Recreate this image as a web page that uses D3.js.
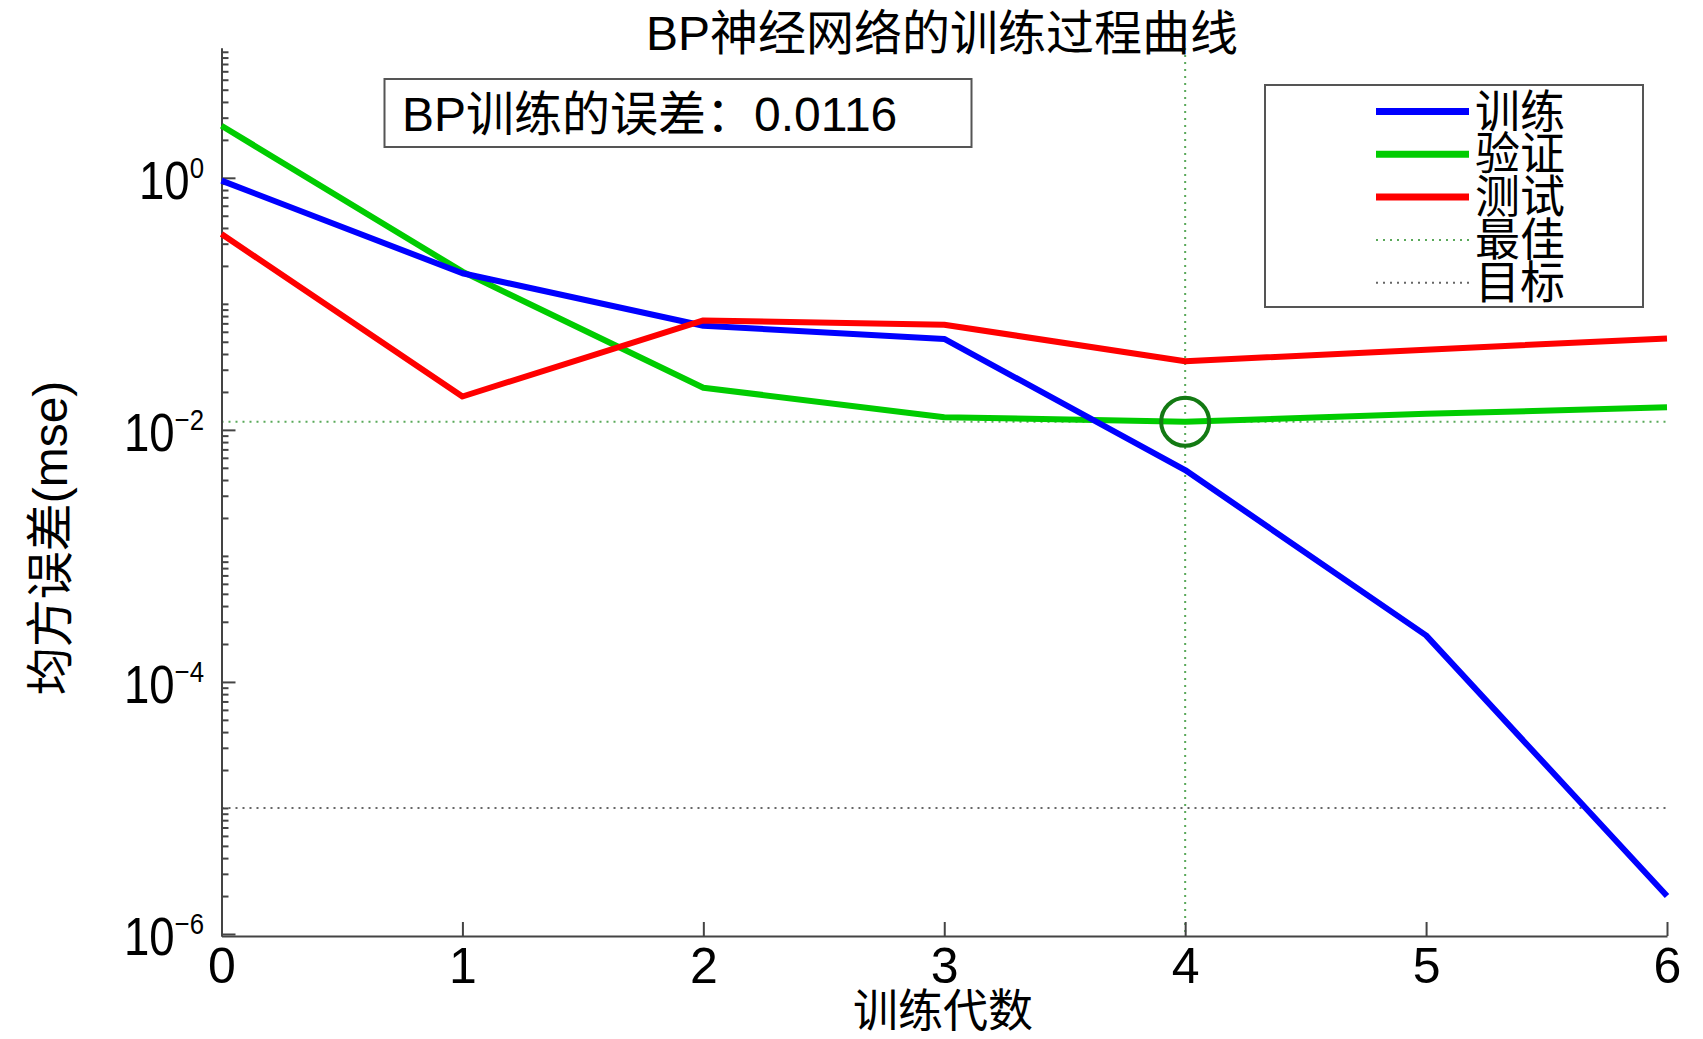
<!DOCTYPE html>
<html lang="zh">
<head>
<meta charset="UTF-8" />
<title>BP神经网络的训练过程曲线</title>
<script src="https://d3js.org/d3.v7.min.js"></script>
<style>
  body { margin: 0; background: #fff; }
  text { font-family: "Liberation Sans", Arial, "Noto Sans CJK SC", sans-serif; fill: #000; }
  .axis path, .axis line { stroke: #444; stroke-width: 2; }
  .series { fill: none; stroke-width: 6; stroke-linejoin: round; }
</style>
</head>
<body>
<script>
// 训练代数 (epochs)
const epochs = [0, 1, 2, 3, 4, 5, 6];
// 各数据集的均方误差
const trainMse = [0.95, 0.175, 0.067, 0.0527, 0.0048, 2.34e-4, 2.0e-6];
const validMse = [2.59, 0.18, 0.0216, 0.0126, 0.0116, 0.0134, 0.0151];
const testMse  = [0.358, 0.0184, 0.0738, 0.0683, 0.035, 0.0433, 0.0532];
const bestEpoch = 4;
const bestPerf = 0.0116;
const goal = 1e-5;
const legendLabels = ["训练", "验证", "测试", "最佳", "目标"];
const yMajorTicks = [1e-6, 1e-4, 1e-2, 1];
const yTickExp = ["\u22126", "\u22124", "\u22122", "0"];

const width = 1703, height = 1039;
const margin = { left: 221.5, right: 36, top: 48, bottom: 103 };

const svg = d3.select("body").append("svg")
  .attr("width", width).attr("height", height);

const x = d3.scaleLinear().domain([0, 6]).range([margin.left, width - margin.right]);
const y = d3.scaleLog().domain([Math.pow(10, -6.016), Math.pow(10, 1.03)])
  .range([height - margin.bottom, margin.top]);

// 最佳 / 目标 辅助线
svg.append("line")
  .attr("x1", x(0)).attr("x2", x(6))
  .attr("y1", y(bestPerf)).attr("y2", y(bestPerf))
  .attr("stroke", "#5aa95a").attr("stroke-width", 2).attr("stroke-dasharray", "2,5");
svg.append("line")
  .attr("x1", x(bestEpoch)).attr("x2", x(bestEpoch))
  .attr("y1", y.range()[1]).attr("y2", y.range()[0])
  .attr("stroke", "#5aa95a").attr("stroke-width", 2).attr("stroke-dasharray", "2,5");
svg.append("line")
  .attr("x1", x(0)).attr("x2", x(6))
  .attr("y1", y(goal)).attr("y2", y(goal))
  .attr("stroke", "#666").attr("stroke-width", 2).attr("stroke-dasharray", "2,5");

// minor ticks
const minor = [];
for (let e = -6; e <= 0; e++) {
  for (let k = 1; k <= 9; k++) {
    const v = k * Math.pow(10, e);
    if (!yMajorTicks.some(m => Math.abs(m - v) / v < 1e-9)) minor.push(v);
  }
}
minor.push(10);

svg.append("g").attr("class", "axis")
  .attr("transform", `translate(${margin.left},0)`)
  .call(d3.axisLeft(y).tickValues(minor).tickSizeInner(-7).tickSizeOuter(0).tickFormat(""));
svg.append("g").attr("class", "axis")
  .attr("transform", `translate(${margin.left},0)`)
  .call(d3.axisLeft(y).tickValues(yMajorTicks).tickSizeInner(-14).tickSizeOuter(0).tickFormat(""));

// y tick labels 10^n
yMajorTicks.forEach((v, i) => {
  const t = svg.append("text")
    .attr("transform", `translate(204,${y(v) + 21}) scale(0.86,1)`)
    .attr("text-anchor", "end")
    .style("font-size", "53px");
  t.append("tspan").text("10");
  t.append("tspan").attr("dy", -21).style("font-size", "30px").text(yTickExp[i]);
});

// x axis
const xAxis = svg.append("g").attr("class", "axis")
  .attr("transform", `translate(0,${height - margin.bottom})`)
  .call(d3.axisBottom(x).tickValues(epochs).tickFormat(d3.format("d"))
    .tickSizeInner(-14).tickSizeOuter(0).tickPadding(11));
xAxis.selectAll("text")
  .style("font-size", "50px")
  .style("font-family", "'Liberation Sans', Arial, sans-serif")
  .attr("fill", "#000");

// 曲线
const line = d3.line().x((d, i) => x(epochs[i])).y(d => y(d));
const series = [
  { values: validMse, color: "#00cc00" },
  { values: trainMse, color: "#0000ff" },
  { values: testMse, color: "#ff0000" }
];
svg.selectAll(".series").data(series).enter().append("path")
  .attr("class", "series")
  .attr("stroke", d => d.color)
  .attr("d", d => line(d.values));

// 最佳点
svg.append("circle")
  .attr("cx", x(bestEpoch)).attr("cy", y(bestPerf)).attr("r", 24)
  .attr("fill", "none").attr("stroke", "#137a13").attr("stroke-width", 4);

// 标题与轴标题
svg.append("text")
  .attr("x", 942).attr("y", 50).attr("text-anchor", "middle")
  .style("font-size", "48px")
  .text("BP神经网络的训练过程曲线");
svg.append("text")
  .attr("x", 943).attr("y", 1027).attr("text-anchor", "middle")
  .style("font-size", "45px")
  .text("训练代数");
svg.append("text")
  .attr("transform", "translate(67,538) rotate(-90)")
  .attr("text-anchor", "middle")
  .style("font-size", "48px")
  .text("均方误差(mse)");

// 误差文本框
svg.append("rect")
  .attr("x", 384.5).attr("y", 79).attr("width", 587).attr("height", 68)
  .attr("fill", "#fff").attr("stroke", "#555").attr("stroke-width", 2);
svg.append("text")
  .attr("x", 402).attr("y", 131)
  .style("font-size", "48px")
  .text("BP训练的误差：" + bestPerf.toFixed(4));

// 图例
const legend = svg.append("g");
legend.append("rect")
  .attr("x", 1265).attr("y", 85).attr("width", 378).attr("height", 222)
  .attr("fill", "#fff").attr("stroke", "#555").attr("stroke-width", 2);
const legendStyles = [
  { color: "#0000ff", w: 7, dash: null },
  { color: "#00cc00", w: 7, dash: null },
  { color: "#ff0000", w: 7, dash: null },
  { color: "#5aa95a", w: 2, dash: "2,5" },
  { color: "#666", w: 2, dash: "2,5" }
];
legendLabels.forEach((lab, i) => {
  const ly = 111.5 + i * 42.8;
  legend.append("line")
    .attr("x1", 1376).attr("x2", 1469).attr("y1", ly).attr("y2", ly)
    .attr("stroke", legendStyles[i].color)
    .attr("stroke-width", legendStyles[i].w)
    .attr("stroke-dasharray", legendStyles[i].dash);
  legend.append("text")
    .attr("x", 1475).attr("y", ly + 16)
    .style("font-size", "45px")
    .text(lab);
});
</script>
</body>
</html>
